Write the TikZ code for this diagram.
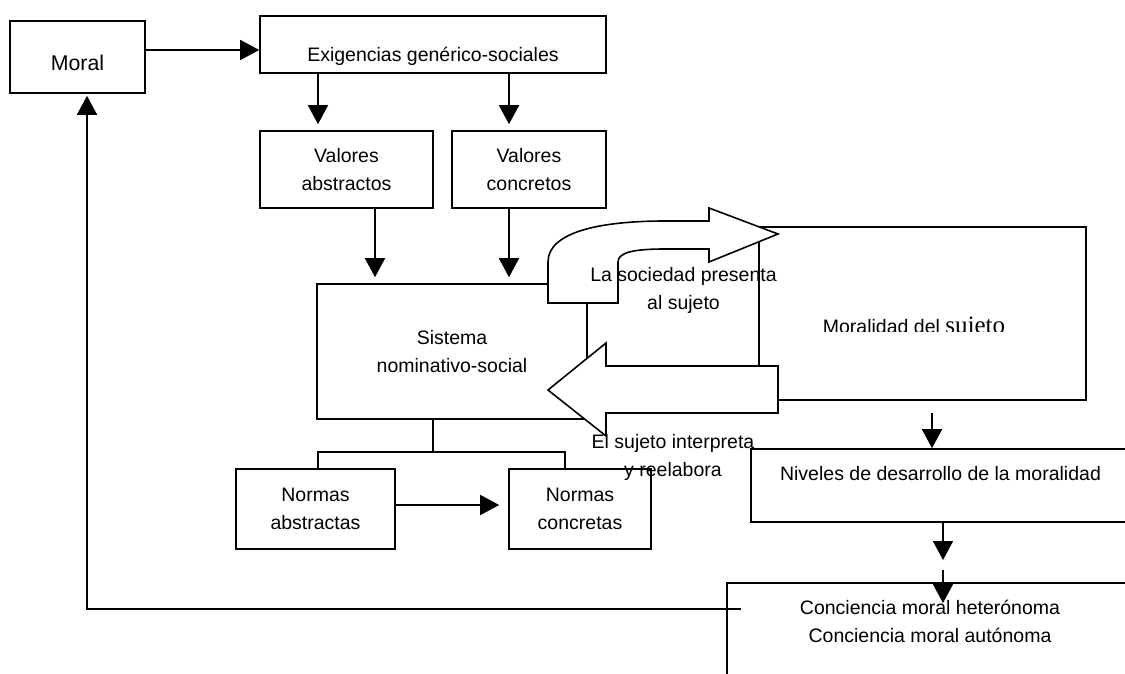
\documentclass[tikz,border=0pt]{standalone}
\usepackage{fontspec}
\setmainfont{Liberation Sans}
\newfontfamily\sujetofont{Liberation Serif}
\usetikzlibrary{arrows.meta}

\newcommand{\boxfont}{\fontsize{19.5pt}{28pt}\selectfont}

\begin{document}
\begin{tikzpicture}[x = 1pt, y = -1pt,
	box/.style = {rectangle, draw, line width = 1.6pt, inner sep = 0pt, align = center, font = \boxfont},
	note/.style = {align = center, inner sep = 0pt, font = \boxfont},
	link/.style = {line width = 1.6pt, -{Triangle[length = 19pt, width = 20pt]}},
	wire/.style = {line width = 1.6pt},
	fat arrow/.style = {draw, fill = white, line width = 1.6pt}]

\clip (0, 0) rectangle (1125, 673);

%%% Moral


\node [box, minimum width = 135pt, minimum height = 72pt, font = \fontsize{21.3pt}{28pt}\selectfont, text height = 31pt, text depth = 5pt] (moral) at (77.5, 57) {Moral};

\node [box, minimum width = 346pt, minimum height = 57pt, text height = 39.4pt, text depth = 5pt] (exig) at (433, 44.5) {Exigencias genérico-sociales};

\draw [link] (moral.east |- 0, 50) -- (exig.west |- 0, 50);


%%% Valores


\node [box, minimum width = 173pt, minimum height = 77pt] (vabs) at (346.5, 169.5) {Valores\\abstractos};

\node [box, minimum width = 154pt, minimum height = 77pt] (vcon) at (529, 169.5) {Valores\\concretos};

\draw [link, shorten >= 6pt] (exig.south -| 318, 0) -- (vabs.north -| 318, 0);

\draw [link, shorten >= 6pt] (exig.south -| 509, 0) -- (vcon.north -| 509, 0);


%%% Sistema y normas


\node [box, minimum width = 270pt, minimum height = 135pt] (sist) at (452, 351.5) {Sistema\\nominativo-social};

\draw [link, shorten >= 6pt] (vabs.south -| 375, 0) -- (sist.north -| 375, 0);

\draw [link, shorten >= 6pt] (vcon.south -| 509, 0) -- (sist.north -| 509, 0);

\node [box, minimum width = 159pt, minimum height = 80pt] (nabs) at (315.5, 509) {Normas\\abstractas};

\node [box, minimum width = 142pt, minimum height = 80pt] (ncon) at (580, 509) {Normas\\concretas};

\coordinate (fork) at (433, 452);

\draw [wire] (sist.south -| fork) -- (fork);

\draw [wire] (nabs.north -| 318, 0) |- (fork) -| (ncon.north -| 565, 0);

\draw [link, shorten >= 9pt] (nabs.east |- 0, 505) -- (ncon.west |- 0, 505);


%%% Sujeto


\node [box, minimum width = 327pt, minimum height = 173pt] (moralidad) at (922.5, 313.5) {};

\node [box, minimum width = 379pt, minimum height = 73pt, text height = 14pt, text depth = 23.4pt] (niv) at (940.5, 485.5) {Niveles de desarrollo de la moralidad};

\draw [link, shorten <= 12pt] (moralidad.south -| 932, 0) -- (niv.north -| 932, 0);

\node [box, minimum width = 406pt, minimum height = 117pt] (conc) at (930, 641.5) {};

\node [note] (conc-text) at (930, 621) {Conciencia moral heterónoma\\Conciencia moral autónoma};

\coordinate (gap top) at (943, 560);
\coordinate (gap bottom) at (943, 570);
\coordinate (gap end) at (943, 603);

\draw [link] (niv.south -| gap top) -- (gap top);

\draw [link] (gap bottom) -- (gap end);

%% back to Moral
\coordinate (back) at (741, 609);

\draw [link, shorten >= 2pt] (back) -| (moral.south -| 87, 0);


%%% Flechas anchas


\draw [fat arrow] (548, 303) -- (618, 303) -- (618, 262) .. controls (618, 252) and (635, 249) .. (665, 249) -- (709, 249) -- (709, 262) -- (778, 234) -- (709, 208) -- (709, 221) -- (665, 221) .. controls (600, 221) and (548, 232) .. (548, 262) -- cycle;

\draw [fat arrow] (778, 366) -- (606, 366) -- (606, 343) -- (548, 390) -- (606, 436) -- (606, 413) -- (778, 413) -- cycle;

\node [note] (presenta) at (683.5, 290) {La sociedad presenta\\al sujeto};

\node [note] (reelabora) at (673, 457.5) {El sujeto interpreta\\y reelabora};

\begin{scope}
\clip (moralidad.north west) rectangle (1086, 331.5);
\node [note, anchor = base] (moralidad-text) at (914, 333) {Moralidad del {\sujetofont\fontsize{25pt}{28pt}\selectfont sujeto}};
\end{scope}

\end{tikzpicture}
\end{document}
